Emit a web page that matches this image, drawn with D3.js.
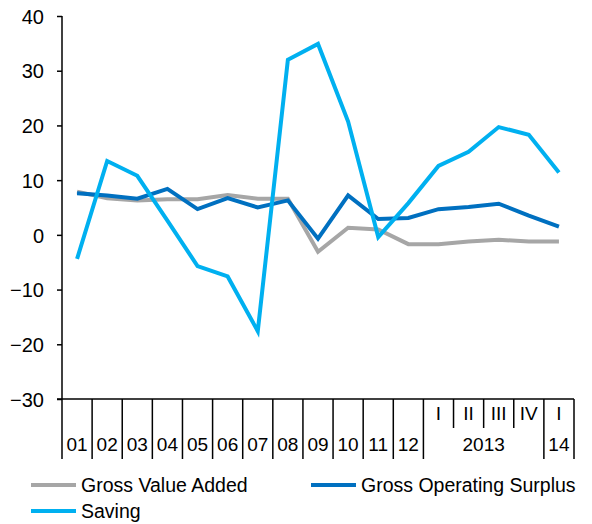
<!DOCTYPE html>
<html>
<head>
<meta charset="utf-8">
<script src="https://cdn.jsdelivr.net/npm/d3@7"></script>
<style>
  body { margin: 0; background: #fff; }
  svg text { font-family: Arial, "Liberation Sans", sans-serif; fill: #000; }
</style>
</head>
<body>
<div id="chart"></div>
<script>
(function(){
  const width = 592, height = 524

  // categories along the x axis (years 01-12, then quarters of 2013 and Q1 2014)
  const categories = ["01","02","03","04","05","06","07","08","09","10","11","12","I","II","III","IV","I"]
  const quarterStart = 12 // first quarterly category
  const groupLabels = ["2013", "14"]
  const groupSpans = [[12, 15], [16, 16]]

  const seriesNames = ["Gross Value Added", "Gross Operating Surplus", "Saving"]
  const seriesColors = ["#a6a6a6", "#0070c0", "#00b0f0"]

  const gva    = [7.9, 6.7, 6.3, 6.5, 6.5, 7.3, 6.6, 6.6, -3.1, 1.3, 1.0, -1.7, -1.7, -1.2, -0.9, -1.2, -1.2]
  const gos    = [7.6, 7.2, 6.6, 8.4, 4.7, 6.7, 5.0, 6.3, -0.7, 7.2, 2.9, 3.1, 4.7, 5.1, 5.7, 3.5, 1.5]
  const saving = [-4.4, 13.5, 10.8, 2.6, -5.7, -7.6, -17.6, 32.0, 34.9, 20.7, -0.4, 5.8, 12.6, 15.2, 19.7, 18.3, 11.4]

  const yTicks = [-30, -20, -10, 0, 10, 20, 30, 40]

  const left = 62, right = 574, top = 16, bottom = 399

  var svg = d3.select("#chart").append("svg")
    .attr("width", width)
    .attr("height", height)

  var x = d3.scaleBand().domain(d3.range(categories.length)).range([left, right])
  var y = d3.scaleLinear().domain([-30, 40]).range([bottom, top])

  // y axis
  var yAxis = svg.append("g")
    .attr("transform", "translate(" + left + ",0)")
    .call(d3.axisLeft(y).tickValues(yTicks).tickSize(5).tickPadding(13).tickFormat(d3.format("d")))
  yAxis.select(".domain").attr("d", "M0," + top + "V" + bottom).attr("stroke", "#000").attr("stroke-width", 1.5)
  yAxis.selectAll(".tick line").attr("stroke", "#000").attr("stroke-width", 1.5)
  yAxis.selectAll("text").style("font-size", "20px").attr("dy", "0.36em")

  // x axis base line
  svg.append("line")
    .attr("x1", left - 5).attr("x2", right)
    .attr("y1", bottom).attr("y2", bottom)
    .attr("stroke", "#000").attr("stroke-width", 1.5)

  // category dividers: full height between years, half height between quarters
  var dividers = d3.range(categories.length + 1).map(function(i){
    var inQuarter = i > quarterStart && i <= groupSpans[0][1]
    return {x: i < categories.length ? x(i) : right, h: inQuarter ? 29 : 60}
  })
  svg.selectAll(".div").data(dividers).enter().append("line")
    .attr("x1", d => d.x).attr("x2", d => d.x)
    .attr("y1", bottom).attr("y2", d => bottom + d.h)
    .attr("stroke", "#000").attr("stroke-width", 1.5)

  // category labels
  svg.selectAll(".cat").data(categories).enter().append("text")
    .attr("x", (d, i) => x(i) + x.bandwidth() / 2)
    .attr("y", (d, i) => i < quarterStart ? 451 : 420)
    .attr("text-anchor", "middle")
    .style("font-size", "19px")
    .text(d => d)

  // year group labels under the quarters
  svg.selectAll(".grp").data(groupLabels).enter().append("text")
    .attr("x", (d, i) => (x(groupSpans[i][0]) + x(groupSpans[i][1]) + x.bandwidth()) / 2)
    .attr("y", 451)
    .attr("text-anchor", "middle")
    .style("font-size", "19px")
    .text(d => d)

  // lines
  var line = d3.line()
    .x((d, i) => x(i) + x.bandwidth() / 2)
    .y(d => y(d))

  svg.selectAll(".series").data([gva, gos, saving]).enter().append("path")
    .attr("d", line)
    .attr("fill", "none")
    .attr("stroke", (d, i) => seriesColors[i])
    .attr("stroke-width", 4)
    .attr("stroke-linejoin", "miter")

  // legend
  var legendPos = [[31, 485], [311, 485], [31, 511]]
  var legend = svg.selectAll(".legend").data(seriesNames).enter().append("g")
    .attr("transform", (d, i) => "translate(" + legendPos[i][0] + "," + legendPos[i][1] + ")")
  legend.append("line")
    .attr("x1", 0).attr("x2", 45)
    .attr("stroke", (d, i) => seriesColors[i])
    .attr("stroke-width", 4)
  legend.append("text")
    .attr("x", 50).attr("dy", "0.35em")
    .style("font-size", "19.5px")
    .text(d => d)
})()
</script>
</body>
</html>
